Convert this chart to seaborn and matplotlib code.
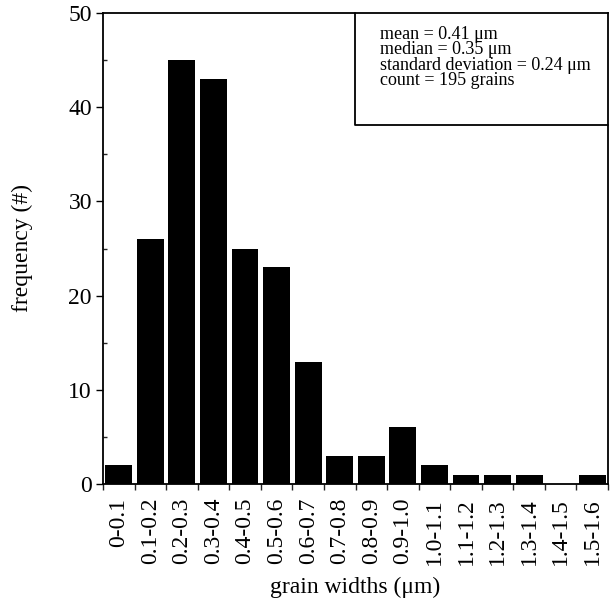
import matplotlib
matplotlib.use("Agg")
import matplotlib.pyplot as plt
import seaborn as sns
import pandas as pd
import numpy as np
from matplotlib.ticker import MultipleLocator, FixedLocator

categories = ["0-0.1", "0.1-0.2", "0.2-0.3", "0.3-0.4", "0.4-0.5", "0.5-0.6",
              "0.6-0.7", "0.7-0.8", "0.8-0.9", "0.9-1.0", "1.0-1.1", "1.1-1.2",
              "1.2-1.3", "1.3-1.4", "1.4-1.5", "1.5-1.6"]
frequency = [2, 26, 45, 43, 25, 23, 13, 3, 3, 6, 2, 1, 1, 1, 0, 1]
stats_lines = ["mean = 0.41 μm", "median = 0.35 μm",
               "standard deviation = 0.24 μm", "count = 195 grains"]

sns.set_theme(style="ticks")
plt.rcParams['font.family'] = ['Liberation Serif', 'DejaVu Serif']

df = pd.DataFrame({"width": categories, "freq": frequency})

fig = plt.figure(figsize=(6.11, 6.01), dpi=100)
L, R, T, B = 103, 608, 13, 484
W, H = 611, 601
ax = fig.add_axes([L / W, (H - B) / H, (R - L) / W, (B - T) / H])
sns.barplot(data=df, x="width", y="freq", order=categories, color="black",
            width=0.85, saturation=1, ax=ax, edgecolor="black", linewidth=0)

ax.set_xlim(-0.5, len(categories) - 0.5)
ax.set_ylim(0, 50)
ax.yaxis.set_major_locator(MultipleLocator(10))
ax.yaxis.set_minor_locator(MultipleLocator(5))
ax.tick_params(axis="y", which="major", direction="out", length=5, width=1,
               labelsize=17, colors="black", pad=3)
ax.tick_params(axis="y", which="minor", direction="in", length=3, width=1)

ax.set_xticks(range(len(categories)))
ax.set_xticklabels(categories, rotation=90)
ax.xaxis.set_minor_locator(FixedLocator(np.arange(len(categories) + 1) - 0.5))
ax.tick_params(axis="x", which="major", length=0, labelsize=17, pad=10,
               colors="black")
ax.tick_params(axis="x", which="minor", direction="out", length=4, width=1)

for s in ax.spines.values():
    s.set_visible(True)
    s.set_color("black")
    s.set_linewidth(1.3)

ax.set_xlabel("grain widths (μm)", fontsize=17, color="black")
ax.set_ylabel("frequency (#)", fontsize=17, color="black")
ax.xaxis.set_label_coords(0.5, -(587 - B) / (B - T), transform=ax.transAxes)
ax.yaxis.set_label_coords((22 - L) / (R - L), 0.5, transform=ax.transAxes)
ax.xaxis.label.set_va("center")
ax.yaxis.label.set_va("center")

ax.text((380 - L) / (R - L), 1 - (26 - T) / (B - T), "\n".join(stats_lines),
        transform=ax.transAxes, ha="left", va="top", fontsize=13,
        linespacing=0.88, color="black")
bx = (355 - L) / (R - L)
by = 1 - (125 - T) / (B - T)
ax.plot([bx, bx, 1.0], [1.0, by, by], transform=ax.transAxes,
        color="black", linewidth=1.3, clip_on=False)

fig.savefig("out.png", dpi=100)
